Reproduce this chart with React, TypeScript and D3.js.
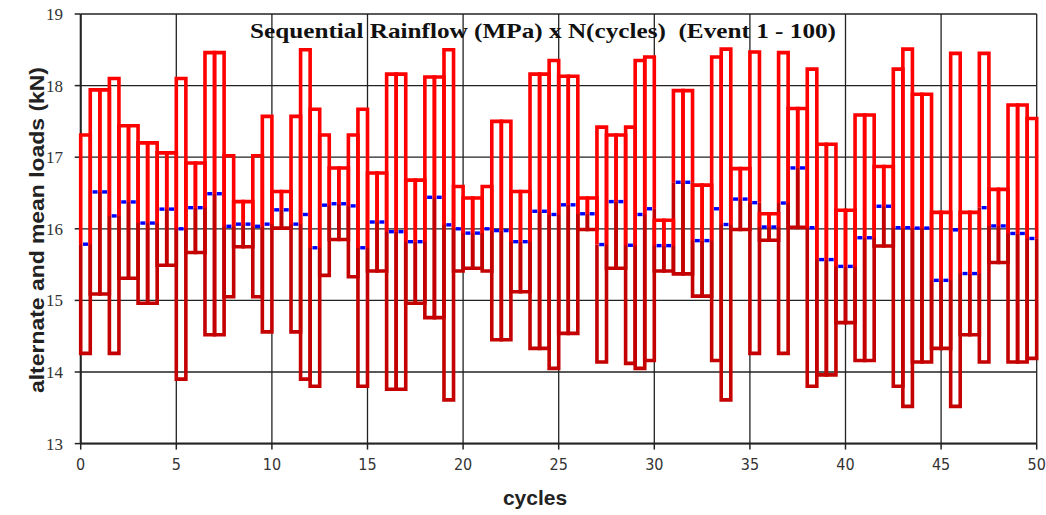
import React from "react";
import * as d3 from "d3";

// Sequential rainflow events (each event = half cycle, 0.5 cycles wide)
const eventMax: number[] = [
  17.31, 17.94, 17.94, 18.1, 17.44, 17.44, 17.2, 17.2, 17.06, 17.06,
  18.1, 16.92, 16.92, 18.46, 18.46, 17.02, 16.38, 16.38, 17.02, 17.57,
  16.52, 16.52, 17.57, 18.5, 17.67, 17.31, 16.85, 16.85, 17.31, 17.67,
  16.78, 16.78, 18.16, 18.16, 16.68, 16.68, 18.12, 18.12, 18.5, 16.59,
  16.43, 16.43, 16.59, 17.5, 17.5, 16.52, 16.52, 18.16, 18.16, 18.35,
  18.13, 18.13, 16.43, 16.43, 17.42, 17.31, 17.31, 17.42, 18.35, 18.4,
  16.12, 16.12, 17.93, 17.93, 16.61, 16.61, 18.4, 18.51, 16.84, 16.84,
  18.47, 16.21, 16.21, 18.46, 17.68, 17.68, 18.23, 17.18, 17.18, 16.26,
  16.26, 17.59, 17.59, 16.87, 16.87, 18.23, 18.51, 17.88, 17.88, 16.23,
  16.23, 18.45, 16.23, 16.23, 18.45, 16.55, 16.55, 17.73, 17.73, 17.54,
];
const eventMin: number[] = [
  14.26, 15.09, 15.09, 14.26, 15.31, 15.31, 14.96, 14.96, 15.49, 15.49,
  13.9, 15.67, 15.67, 14.52, 14.52, 15.05, 15.75, 15.75, 15.05, 14.56,
  16.01, 16.01, 14.56, 13.9, 13.8, 15.35, 15.85, 15.85, 15.33, 13.8,
  15.41, 15.41, 13.76, 13.76, 14.96, 14.96, 14.76, 14.76, 13.61, 15.41,
  15.45, 15.45, 15.41, 14.45, 14.45, 15.12, 15.12, 14.33, 14.33, 14.05,
  14.54, 14.54, 15.99, 15.99, 14.14, 15.45, 15.45, 14.12, 14.05, 14.16,
  15.41, 15.41, 15.37, 15.37, 15.06, 15.06, 14.16, 13.61, 15.99, 15.99,
  14.26, 15.84, 15.84, 14.26, 16.02, 16.02, 13.8, 13.96, 13.96, 14.69,
  14.69, 14.16, 14.16, 15.76, 15.76, 13.8, 13.52, 14.14, 14.14, 14.33,
  14.33, 13.52, 14.52, 14.52, 14.14, 15.53, 15.53, 14.14, 14.14, 14.19,
];
const eventWidth = 0.5; // cycles per event
const xTicks: number[] = [0, 5, 10, 15, 20, 25, 30, 35, 40, 45, 50];
const yTicks: number[] = [13, 14, 15, 16, 17, 18, 19];

const titleText = "Sequential Rainflow (MPa) x N(cycles)\u00a0\u00a0(Event 1 - 100)";
const xTitle = "cycles";
const yTitle = "alternate and mean loads (kN)";

const W = 1046;
const H = 515;
const PL = 80.7, PR = 1036.7, PT = 14, PB = 443.6;

export default function App() {
  const x = d3.scaleLinear().domain([0, 50]).range([PL, PR]);
  const y = d3.scaleLinear().domain([13, 19]).range([PB, PT]);

  const events = eventMax.map((hi, i) => {
    const lo = eventMin[i];
    const mean = (hi + lo) / 2;
    return { i, hi, lo, mean, x0: x(i * eventWidth), x1: x((i + 1) * eventWidth) };
  });

  const upperPath = (e: any) =>
    `M${e.x0},${y(e.mean)}V${y(e.hi)}H${e.x1}V${y(e.mean)}`;
  const lowerPath = (e: any) =>
    `M${e.x0},${y(e.mean)}V${y(e.lo)}H${e.x1}V${y(e.mean)}`;

  return (
    <svg
      width={W}
      height={H}
      style={{ position: "absolute", left: 0, top: 0, background: "#fff" }}
    >
      <rect x={0} y={0} width={W} height={H} fill="#fff" />
      {/* grid */}
      {yTicks.map((t) => (
        <line key={"gy" + t} x1={PL} x2={PR} y1={y(t)} y2={y(t)} stroke="#222" strokeWidth={1.3} />
      ))}
      {xTicks.map((t) => (
        <line key={"gx" + t} x1={x(t)} x2={x(t)} y1={PT} y2={PB} stroke="#222" strokeWidth={1.3} />
      ))}
      {/* axes */}
      <line x1={PL} x2={PL} y1={PT} y2={PB} stroke="#222" strokeWidth={2} />
      <line x1={PL} x2={PR} y1={PB} y2={PB} stroke="#222" strokeWidth={2} />
      {yTicks.map((t) => (
        <g key={"yt" + t}>
          <line x1={PL - 6} x2={PL} y1={y(t)} y2={y(t)} stroke="#222" strokeWidth={1.5} />
          <text
            x={63}
            y={y(t)}
            dy="0.35em"
            textAnchor="end"
            fontFamily="'Liberation Serif', serif"
            fontSize={17}
            fill="#333"
          >
            {t}
          </text>
        </g>
      ))}
      {xTicks.map((t) => (
        <g key={"xt" + t}>
          <line x1={x(t)} x2={x(t)} y1={PB} y2={PB + 6} stroke="#222" strokeWidth={1.5} />
          <text
            x={x(t)}
            y={470}
            textAnchor="middle"
            fontFamily="'Liberation Sans Narrow', 'DejaVu Sans Condensed', sans-serif"
            fontSize={16}
            fill="#333"
          >
            {t}
          </text>
        </g>
      ))}
      {/* lower halves (dark red) */}
      <g fill="none" stroke="#c40000" strokeWidth={3.6} strokeLinejoin="miter">
        {events.map((e) => (
          <path key={"lo" + e.i} d={lowerPath(e)} />
        ))}
      </g>
      {/* upper halves (red) */}
      <g fill="none" stroke="#ff0000" strokeWidth={3.6} strokeLinejoin="miter">
        {events.map((e) => (
          <path key={"hi" + e.i} d={upperPath(e)} />
        ))}
      </g>
      {/* means (blue dashes) */}
      <g stroke="#0000ff" strokeWidth={3.4}>
        {events.map((e) => {
          const mid = (e.x0 + e.x1) / 2;
          return <line key={"m" + e.i} x1={mid - 2.5} x2={mid + 2.5} y1={y(e.mean)} y2={y(e.mean)} />;
        })}
      </g>
      {/* title */}
      <text
        x={543}
        y={38}
        textAnchor="middle"
        fontFamily="'Liberation Serif', 'Times New Roman', serif"
        fontWeight="bold"
        fontSize={21}
        fill="#111"
        textLength={586}
        lengthAdjust="spacingAndGlyphs"
      >
        {titleText}
      </text>
      <text
        x={535}
        y={505}
        textAnchor="middle"
        fontFamily="'Liberation Sans', Arial, sans-serif"
        fontWeight="bold"
        fontSize={21}
        fill="#222"
      >
        {xTitle}
      </text>
      <text
        transform={`translate(44,230) rotate(-90)`}
        textAnchor="middle"
        fontFamily="'Liberation Sans', Arial, sans-serif"
        fontWeight="bold"
        fontSize={20}
        fill="#222"
        textLength={326}
        lengthAdjust="spacingAndGlyphs"
      >
        {yTitle}
      </text>
    </svg>
  );
}
